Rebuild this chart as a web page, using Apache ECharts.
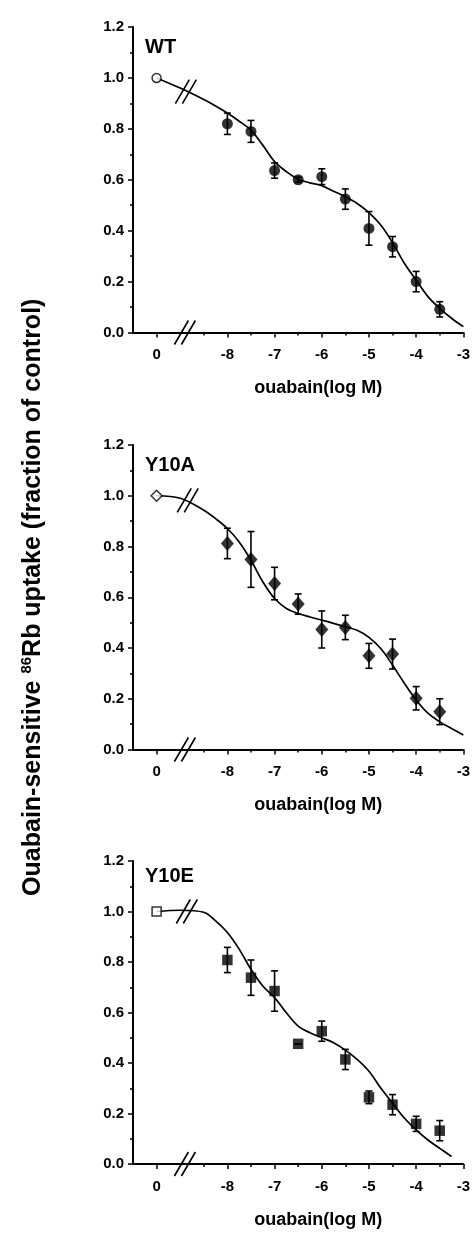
<!DOCTYPE html>
<html>
<head>
<meta charset="utf-8">
<script src="https://cdn.jsdelivr.net/npm/echarts@6/dist/echarts.min.js"></script>
<style>
  html, body { margin: 0; padding: 0; background: #fff; }
  #chart { width: 473px; height: 1234px; }
</style>
</head>
<body>
<div id="chart"></div>
<script>
// tick positions on the compressed x axis; -9.5 carries the "0" (control) label
var xLabelPos = [-9.5, -8, -7, -6, -5, -4, -3];
var xTickLabels = ['0', '-8', '-7', '-6', '-5', '-4', '-3'];
var xHalfTicks = [-8.5, -7.5, -6.5, -5.5, -4.5, -3.5];
var controlX = -9.5;
var breakX = -8.9;

var panelNames = ['WT', 'Y10A', 'Y10E'];

// ouabain doses (log M)
var doseX = [-8, -7.5, -7, -6.5, -6, -5.5, -5, -4.5, -4, -3.5];

var wtMean = [0.82, 0.79, 0.636, 0.60, 0.612, 0.524, 0.409, 0.337, 0.20, 0.091];
var wtErr = [0.042, 0.043, 0.03, 0.01, 0.031, 0.04, 0.066, 0.04, 0.04, 0.03];

var y10aMean = [0.812, 0.749, 0.654, 0.573, 0.473, 0.481, 0.369, 0.376, 0.202, 0.149];
var y10aErr = [0.06, 0.11, 0.064, 0.04, 0.073, 0.048, 0.049, 0.059, 0.046, 0.051];

var y10eMean = [0.808, 0.738, 0.685, 0.476, 0.526, 0.414, 0.264, 0.235, 0.159, 0.132];
var y10eErr = [0.05, 0.07, 0.08, 0, 0.04, 0.04, 0.025, 0.04, 0.03, 0.04];

// fitted curves
var curveX = [-9.5, -9, -8.5, -8.25, -8, -7.75, -7.5, -7.25, -7, -6.75, -6.5, -6.25, -6, -5.75, -5.5, -5.25, -5, -4.75, -4.5, -4.25, -4, -3.75, -3.5, -3.25, -3];
var wtCurve = [1.0, 0.96, 0.915, 0.89, 0.862, 0.83, 0.795, 0.736, 0.671, 0.632, 0.602, 0.588, 0.577, 0.555, 0.533, 0.507, 0.471, 0.422, 0.353, 0.272, 0.206, 0.141, 0.095, 0.056, 0.023];
var y10aCurve = [1.0, 0.99, 0.943, 0.91, 0.871, 0.818, 0.746, 0.661, 0.595, 0.556, 0.536, 0.522, 0.51, 0.497, 0.483, 0.47, 0.442, 0.398, 0.333, 0.261, 0.195, 0.143, 0.109, 0.083, 0.057];
var y10eCurve = [1.0, 1.005, 0.997, 0.963, 0.917, 0.851, 0.771, 0.705, 0.659, 0.599, 0.546, 0.52, 0.5, 0.48, 0.451, 0.414, 0.367, 0.301, 0.241, 0.182, 0.135, 0.095, 0.062, 0.03, null];

// where the // marks sit on each curve
var curveBreakX = [-8.88, -8.84, -8.86];
var curveBreakY = [0.946, 0.982, 1.0];

var yTicks = { min: 0, max: 1.2, interval: 0.2 };

var FONT = 'Liberation Sans, Arial, Helvetica, sans-serif';

var chartDom = document.getElementById('chart');
var myChart = echarts.init(chartDom, null, { renderer: 'canvas' });

var grids = [
    { left: 133, width: 332, top: 27, height: 305.5 },
    { left: 133, width: 332, top: 445, height: 304.5 },
    { left: 133, width: 332, top: 861, height: 303 }
];

var pointSymbols = ['circle', 'diamond', 'rect'];
var pointSizes = [11, [13, 15], 10.5];
var openSizes = [9, 11, 9];
var means = [wtMean, y10aMean, y10eMean];
var errs = [wtErr, y10aErr, y10eErr];
var curves = [wtCurve, y10aCurve, y10eCurve];
var labelTops = [37, 455, 866];

var xAxes = [];
var yAxes = [];
var series = [];
var titles = [];

var breakRender = function (params, api) {
    var c = api.coord([api.value(0), api.value(1)]);
    var kids = [-3.5, 3.5].map(function (off) {
        return {
            type: 'line',
            shape: { x1: c[0] + off - 7, y1: c[1] + 12, x2: c[0] + off + 7, y2: c[1] - 12 },
            style: { stroke: '#000', lineWidth: 1.6 }
        };
    });
    return { type: 'group', children: kids };
};

var errRender = function (params, api) {
    var lo = api.coord([api.value(0), api.value(1)]);
    var hi = api.coord([api.value(0), api.value(2)]);
    var w = 3.5;
    var st = { stroke: '#000', lineWidth: 1.6 };
    return {
        type: 'group',
        children: [
            { type: 'line', shape: { x1: lo[0], y1: lo[1], x2: hi[0], y2: hi[1] }, style: st },
            { type: 'line', shape: { x1: lo[0] - w, y1: lo[1], x2: lo[0] + w, y2: lo[1] }, style: st },
            { type: 'line', shape: { x1: hi[0] - w, y1: hi[1], x2: hi[0] + w, y2: hi[1] }, style: st }
        ]
    };
};

for (var p = 0; p < 3; p++) {
    xAxes.push({
        type: 'value', gridIndex: p, min: -10, max: -3,
        name: 'ouabain(log M)', nameLocation: 'middle', nameGap: 47,
        nameTextStyle: { fontFamily: FONT, fontWeight: 'bold', fontSize: 18, color: '#000', padding: [0, 0, 0, 40] },
        axisLine: { onZero: false, lineStyle: { color: '#000', width: 2 } },
        axisTick: { show: true, inside: false, length: 5, customValues: xLabelPos, lineStyle: { color: '#000', width: 1.5 } },
        axisLabel: {
            customValues: xLabelPos, margin: 15,
            fontFamily: FONT, fontWeight: 'bold', fontSize: 15, color: '#000',
            formatter: function (v) {
                var i = xLabelPos.indexOf(v);
                return i >= 0 ? xTickLabels[i] : '';
            }
        },
        splitLine: { show: false }
    });
    // second axis only for the shorter half-unit ticks
    xAxes.push({
        type: 'value', gridIndex: p, min: -10, max: -3, position: 'bottom',
        axisLine: { show: false, onZero: false },
        axisTick: { show: true, length: 3, customValues: xHalfTicks, lineStyle: { color: '#000', width: 1.5 } },
        axisLabel: { show: false },
        splitLine: { show: false }
    });

    var yAx = {
        type: 'value', gridIndex: p, min: yTicks.min, max: yTicks.max, interval: yTicks.interval,
        axisLine: { show: true, lineStyle: { color: '#000', width: 2 } },
        axisTick: { show: true, length: 5, lineStyle: { color: '#000', width: 1.5 } },
        minorTick: { show: true, splitNumber: 2, length: 3, lineStyle: { color: '#000', width: 1.5 } },
        axisLabel: {
            margin: 9, fontFamily: FONT, fontWeight: 'bold', fontSize: 15, color: '#000',
            formatter: function (v) { return v.toFixed(1); }
        },
        splitLine: { show: false }
    };
    if (p === 1) {
        yAx.name = '{b|Ouabain-sensitive }{s|86}{b|Rb uptake (fraction of control)}';
        yAx.nameLocation = 'middle';
        yAx.nameGap = 86;
        yAx.nameTextStyle = {
            fontFamily: FONT, fontWeight: 'bold', fontSize: 25, color: '#000', lineHeight: 28,
            rich: {
                b: { fontFamily: FONT, fontWeight: 'bold', fontSize: 25, color: '#000', lineHeight: 28 },
                s: { fontFamily: FONT, fontWeight: 'bold', fontSize: 15, color: '#000', lineHeight: 16, verticalAlign: 'top' }
            }
        };
    }
    yAxes.push(yAx);

    titles.push({
        text: panelNames[p], left: 145, top: labelTops[p], padding: 0,
        textStyle: { fontFamily: FONT, fontWeight: 'bold', fontSize: 20, color: '#000' }
    });

    var xi = p * 2;
    series.push({
        type: 'line', xAxisIndex: xi, yAxisIndex: p, smooth: 0.35, symbol: 'none',
        lineStyle: { color: '#000', width: 1.7 },
        data: curveX.map(function (x, i) { return [x, curves[p][i]]; }),
        z: 2
    });
    series.push({
        type: 'custom', xAxisIndex: xi, yAxisIndex: p, renderItem: errRender,
        data: doseX.map(function (x, i) { return [x, means[p][i] - errs[p][i], means[p][i] + errs[p][i]]; }),
        z: 3
    });
    series.push({
        type: 'scatter', xAxisIndex: xi, yAxisIndex: p,
        symbol: pointSymbols[p], symbolSize: pointSizes[p],
        itemStyle: { color: '#000' },
        data: doseX.map(function (x, i) { return [x, means[p][i]]; }),
        z: 4
    });
    series.push({
        type: 'scatter', xAxisIndex: xi, yAxisIndex: p,
        symbol: pointSymbols[p], symbolSize: openSizes[p],
        itemStyle: { color: '#fff', borderColor: '#000', borderWidth: 1.5 },
        data: [[controlX, curves[p][0]]],
        z: 4
    });
    series.push({
        type: 'custom', xAxisIndex: xi, yAxisIndex: p, renderItem: breakRender,
        data: [[breakX, 0], [curveBreakX[p], curveBreakY[p]]],
        clip: false,
        z: 5
    });
}

var option = {
    animation: false,
    backgroundColor: '#fff',
    title: titles,
    grid: grids,
    xAxis: xAxes,
    yAxis: yAxes,
    series: series
};

option && myChart.setOption(option);
</script>
</body>
</html>
